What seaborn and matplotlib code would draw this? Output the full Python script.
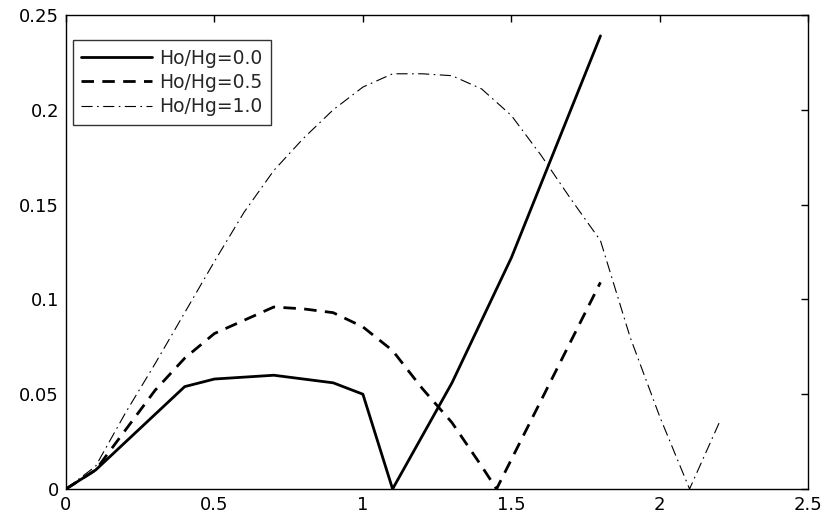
import seaborn as sns
import pandas as pd
import numpy as np
import matplotlib
matplotlib.use('Agg')
import matplotlib.pyplot as plt

# data
x_00 = [0, 0.1, 0.4, 0.5, 0.6, 0.7, 0.8, 0.9, 1.0, 1.1, 1.2, 1.3, 1.4, 1.5, 1.6, 1.7, 1.8]
y_00 = [0, 0.010, 0.054, 0.058, 0.059, 0.060, 0.058, 0.056, 0.050, 0.0, 0.028, 0.056, 0.089, 0.122, 0.161, 0.200, 0.239]

x_05 = [0, 0.1, 0.2, 0.3, 0.4, 0.5, 0.6, 0.7, 0.8, 0.9, 1.0, 1.1, 1.2, 1.3, 1.4, 1.45, 1.8]
y_05 = [0, 0.010, 0.031, 0.052, 0.069, 0.082, 0.089, 0.096, 0.095, 0.093, 0.0855, 0.073, 0.053, 0.035, 0.012, 0.0, 0.109]

x_10 = [0, 0.1, 0.2, 0.3, 0.4, 0.5, 0.6, 0.7, 0.8, 0.9, 1.0, 1.1, 1.2, 1.3, 1.4, 1.5, 1.6, 1.7, 1.8, 1.9, 2.0, 2.1, 2.2]
y_10 = [0, 0.012, 0.040, 0.066, 0.093, 0.120, 0.146, 0.168, 0.185, 0.200, 0.212, 0.219, 0.219, 0.218, 0.211, 0.197, 0.176, 0.153, 0.131, 0.080, 0.038, 0.0, 0.035]

labels = ['Ho/Hg=0.0', 'Ho/Hg=0.5', 'Ho/Hg=1.0']

sns.set_style('white')
plt.rcParams['font.family'] = ['DejaVu Sans']

fig = plt.figure(figsize=(8.24, 5.18), dpi=100)
ax = fig.add_axes([0.080, 0.056, 0.901, 0.915])

df0 = pd.DataFrame({'x': x_00, 'y': y_00})
df1 = pd.DataFrame({'x': x_05, 'y': y_05})
df2 = pd.DataFrame({'x': x_10, 'y': y_10})

sns.lineplot(data=df0, x='x', y='y', ax=ax, color='black', lw=2.0, label=labels[0], sort=False)
sns.lineplot(data=df1, x='x', y='y', ax=ax, color='black', lw=2.0, label=labels[1], sort=False,
             linestyle=(0, (4.5, 3)))
sns.lineplot(data=df2, x='x', y='y', ax=ax, color='black', lw=0.8, label=labels[2], sort=False,
             linestyle=(0, (10, 4, 1.5, 4)))

ax.set_xlim(0, 2.5)
ax.set_ylim(0, 0.25)
ax.set_xticks([0, 0.5, 1, 1.5, 2, 2.5])
ax.set_xticklabels(['0', '0.5', '1', '1.5', '2', '2.5'])
ax.set_yticks([0, 0.05, 0.1, 0.15, 0.2, 0.25])
ax.set_yticklabels(['0', '0.05', '0.1', '0.15', '0.2', '0.25'])
ax.set_xlabel('')
ax.set_ylabel('')
ax.tick_params(direction='in', length=5, width=1, top=True, right=True,
               labelsize=13, colors='black', pad=5)
for s in ax.spines.values():
    s.set_color('black')
    s.set_linewidth(1)

leg = ax.legend(loc='upper left', bbox_to_anchor=(0.009, 0.947), fontsize=13.5,
                frameon=True, fancybox=False, handlelength=3.8, borderpad=0.45,
                labelspacing=0.28, handletextpad=0.35, borderaxespad=0)
leg.get_frame().set_edgecolor('black')
leg.get_frame().set_linewidth(1)

fig.savefig('out.png', dpi=100)
